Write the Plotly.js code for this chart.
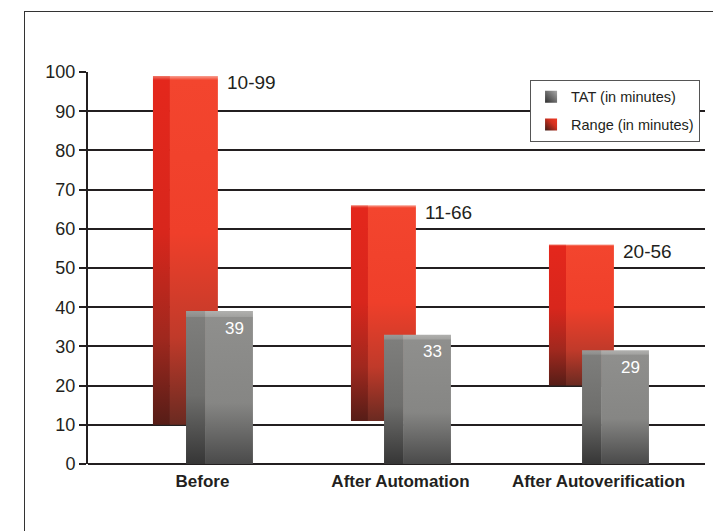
<!DOCTYPE html>
<html>
<head>
<meta charset="utf-8">
<script src="https://cdn.plot.ly/plotly-3.0.1.min.js"></script>
<style>
  html, body { margin:0; padding:0; background:#ffffff; overflow:hidden; }
  #wrap { position:relative; width:713px; height:531px; }
  #chart { position:absolute; left:0; top:0; width:713px; height:531px; }
  #frame { position:absolute; left:24px; top:11px; width:760px; height:600px;
           border:1px solid #333333; pointer-events:none; }
</style>
</head>
<body>
<div id="wrap">
  <div id="chart"></div>
  <div id="frame"></div>
</div>
<script>
// ---- data ----
const categories = ['Before', 'After Automation', 'After Autoverification'];
const tat = [39, 33, 29];
const rangeLow = [10, 11, 20];
const rangeHigh = [99, 66, 56];
const rangeLabels = ['10-99', '11-66', '20-56'];
const tatLabels = ['39', '33', '29'];
const seriesNames = ['TAT (in minutes)', 'Range (in minutes)'];
const yTicks = [0, 10, 20, 30, 40, 50, 60, 70, 80, 90, 100];

const rangeSpan = rangeHigh.map((h, i) => h - rangeLow[i]);
const FONT = 'Liberation Sans, Arial, Helvetica, sans-serif';
const INK = '#231f20';

const data = [
  { type:'bar', x:categories, y:rangeSpan, base:rangeLow, offset:-0.25, width:0.086,
    marker:{color:'#e2271d', line:{width:0}}, showlegend:false, hoverinfo:'skip', opacity:1 },
  { type:'bar', x:categories, y:rangeSpan, base:rangeLow, offset:-0.164, width:0.242,
    marker:{color:'#f0412b', line:{width:0}}, name:seriesNames[1], legendgroup:'r',
    legendrank:2, opacity:1 },
  { type:'bar', x:categories, y:tat, offset:-0.083, width:0.096,
    marker:{color:'#7d7d7b', line:{width:0}}, showlegend:false, hoverinfo:'skip', opacity:1 },
  { type:'bar', x:categories, y:tat, offset:0.013, width:0.242,
    marker:{color:'#8b8b89', line:{width:0}}, name:seriesNames[0], legendgroup:'t',
    legendrank:1, opacity:1 }
];

const annotations = [];
categories.forEach((c, i) => {
  annotations.push({ x:i, y:rangeHigh[i], xref:'x', yref:'y', text:rangeLabels[i],
    showarrow:false, xanchor:'left', yanchor:'middle', xshift:23, yshift:-7,
    font:{family:FONT, size:19, color:INK} });
  annotations.push({ x:i, y:tat[i], xref:'x', yref:'y', text:tatLabels[i],
    showarrow:false, xanchor:'right', yanchor:'middle', xshift:44, yshift:-17,
    font:{family:FONT, size:17, color:'#ffffff'} });
});

const layout = {
  width:713, height:531,
  margin:{l:88, r:8, t:72, b:67},
  paper_bgcolor:'rgba(0,0,0,0)', plot_bgcolor:'rgba(0,0,0,0)',
  barmode:'overlay',
  showlegend:true,
  font:{family:FONT, color:INK},
  xaxis:{ type:'category', range:[-0.578, 2.538], showgrid:false, showline:false,
    zeroline:false, ticks:'', fixedrange:true, ticklabelstandoff:5,
    tickfont:{family:FONT, size:17, color:INK, weight:'bold'} },
  yaxis:{ range:[0, 100], tickvals:yTicks, ticktext:yTicks.map(String),
    showgrid:true, gridcolor:INK, gridwidth:2,
    zeroline:true, zerolinecolor:INK, zerolinewidth:2,
    showline:true, linecolor:INK, linewidth:2,
    ticks:'outside', ticklen:7, tickwidth:2, tickcolor:INK,
    tickfont:{family:FONT, size:18, color:INK}, fixedrange:true },
  legend:{ x:0.992, y:0.98, xanchor:'right', yanchor:'top',
    bgcolor:'#ffffff', bordercolor:'#555555', borderwidth:1,
    font:{family:FONT, size:14.5, color:INK},
    traceorder:'grouped', tracegroupgap:6 },
  annotations:annotations
};

function addGrad(defs, id, stops, diag) {
  const NS = 'http://www.w3.org/2000/svg';
  const g = document.createElementNS(NS, 'linearGradient');
  g.setAttribute('id', id);
  if (diag) {
    g.setAttribute('x1','0'); g.setAttribute('y1','1'); g.setAttribute('x2','1'); g.setAttribute('y2','0');
  } else {
    g.setAttribute('x1','0'); g.setAttribute('y1','0'); g.setAttribute('x2','0'); g.setAttribute('y2','1');
  }
  stops.forEach(s => {
    const st = document.createElementNS(NS, 'stop');
    st.setAttribute('offset', s[0]);
    st.setAttribute('stop-color', s[1]);
    g.appendChild(st);
  });
  defs.appendChild(g);
}

Plotly.newPlot('chart', data, layout, {displayModeBar:false, staticPlot:true}).then(gd => {
  const svg = gd.querySelector('.main-svg');
  let defs = svg.querySelector('defs');
  if (!defs) { defs = document.createElementNS('http://www.w3.org/2000/svg','defs'); svg.insertBefore(defs, svg.firstChild); }
  addGrad(defs, 'gRedSide', [[0,'#f07a6a'],[0.012,'#e4271c'],[0.45,'#d8261c'],[0.75,'#a0281e'],[1,'#561d17']]);
  addGrad(defs, 'gRedFront', [[0,'#f8a294'],[0.012,'#f3452e'],[0.45,'#ef3f2a'],[0.75,'#c03a2a'],[1,'#6a2a21']]);
  addGrad(defs, 'gGraySide', [[0,'#9a9a98'],[0.035,'#8e8e8c'],[0.04,'#7e7e7c'],[0.55,'#6e6e6c'],[1,'#363636']]);
  addGrad(defs, 'gGrayFront', [[0,'#b0b0ae'],[0.035,'#a2a2a0'],[0.04,'#8f8f8d'],[0.6,'#868684'],[1,'#4a4a4a']]);
  addGrad(defs, 'gLegGray', [[0,'#2e2e2e'],[1,'#a8a8a8']], true);
  addGrad(defs, 'gLegRed', [[0,'#3a1c16'],[0.6,'#d0301f'],[1,'#f03a24']], true);
  const ids = ['gRedSide','gRedFront','gGraySide','gGrayFront'];
  gd.querySelectorAll('.barlayer .trace').forEach((t, i) => {
    t.querySelectorAll('path').forEach(p => { p.style.fill = 'url(#' + ids[i] + ')'; });
  });
  gd.querySelectorAll('.legend .traces').forEach(t => {
    const txt = (t.querySelector('.legendtext') || {}).textContent || '';
    t.querySelectorAll('.legendpoints path').forEach(p => {
      p.style.fill = txt.indexOf('TAT') >= 0 ? 'url(#gLegGray)' : 'url(#gLegRed)';
    });
  });
});
</script>
</body>
</html>
